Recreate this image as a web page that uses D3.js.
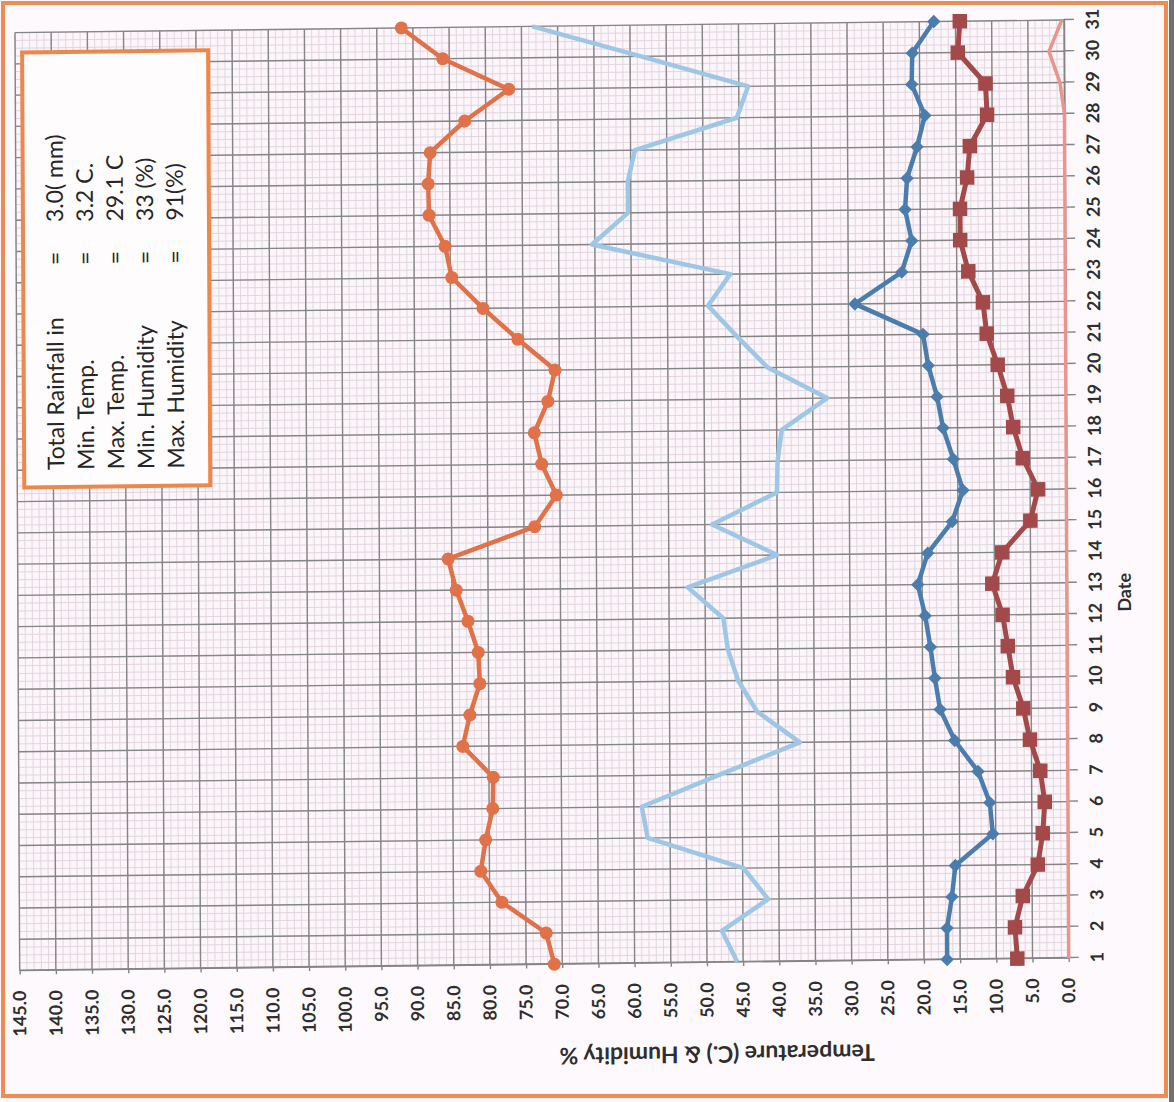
<!DOCTYPE html>
<html>
<head>
<meta charset="utf-8">
<script src="https://cdn.jsdelivr.net/npm/d3@7"></script>
<style>
  body { margin: 0; background: #fdf9fc; }
  text { font-family: Lato, "Open Sans", sans-serif; }
</style>
</head>
<body>
<svg id="chart"></svg>
<script>
// Data
const days = [1, 2, 3, 4, 5, 6, 7, 8, 9, 10, 11, 12, 13, 14, 15, 16, 17, 18, 19, 20, 21, 22, 23, 24, 25, 26, 27, 28, 29, 30, 31];
const rainfall = [0, 0, 0, 0, 0, 0, 0, 0, 0, 0, 0, 0, 0, 0, 0, 0, 0, 0, 0, 0, 0, 0, 0, 0, 0, 0, 0, 0, 0.6, 2.1, 0.3];
const minTemp = [7.1, 7.4, 6.3, 4.2, 3.5, 3.2, 3.8, 5.2, 6.1, 7.5, 8.2, 8.9, 10.3, 8.9, 5.0, 3.9, 6.0, 7.3, 8.1, 9.4, 10.9, 11.4, 13.4, 14.5, 14.5, 13.5, 13.1, 10.7, 10.9, 14.7, 14.4];
const maxTemp = [16.8, 16.8, 16.1, 15.6, 10.4, 10.8, 12.4, 15.6, 17.6, 18.3, 18.9, 19.6, 20.6, 19.2, 15.8, 14.3, 15.6, 17.0, 17.8, 19.0, 19.7, 29.1, 22.6, 21.2, 22.1, 21.8, 20.4, 19.3, 21.1, 21.0, 18.0];
const minHumidity = [45.8, 47.9, 41.5, 44.9, 58.1, 58.9, 48.1, 37.0, 42.9, 45.5, 46.9, 47.5, 52.4, 40.0, 49.0, 40.0, 39.9, 39.3, 33.0, 41.2, 45.4, 49.4, 46.3, 65.4, 60.4, 60.4, 59.4, 45.3, 43.7, 58.5, 73.5];
const maxHumidity = [71.1, 72.2, 78.3, 81.2, 80.5, 79.5, 79.4, 83.6, 82.6, 81.2, 81.4, 82.8, 84.4, 85.5, 73.5, 70.5, 72.5, 73.5, 71.6, 70.6, 75.7, 80.5, 84.8, 85.7, 87.9, 88.0, 87.7, 82.9, 76.8, 85.9, 91.6];
const valueTicks = [0, 5, 10, 15, 20, 25, 30, 35, 40, 45, 50, 55, 60, 65, 70, 75, 80, 85, 90, 95, 100, 105, 110, 115, 120, 125, 130, 135, 140, 145];
const summaryLabels = ["Total Rainfall in", "Min. Temp.", "Max. Temp.", "Min. Humidity", "Max. Humidity"];
const summaryValues = ["3.0( mm)", "3.2 C.", "29.1 C", "33 (%)", "91(%)"];

const W = 1174, H = 1102;
const innerW = 938, innerH = 1049;

const svg = d3.select("#chart").attr("width", W).attr("height", H);

svg.append("rect").attr("width", W).attr("height", H).attr("fill", "#fdf9fc");
// orange frame of the scanned sheet
svg.append("rect")
  .attr("x", 3).attr("y", 3).attr("width", 1163).attr("height", 1093)
  .attr("fill", "none").attr("stroke", "#f28b4f").attr("stroke-width", 4);
svg.append("rect").attr("x", 1169).attr("y", 0).attr("width", 5).attr("height", H).attr("fill", "#707070");

// slight skew of the scan, then the chart turned on its side
const page = svg.append("g")
  .attr("transform", "translate(1064,20) matrix(1,-0.012,0.005,1,0,0) translate(-1064,-20)");
const g = page.append("g").attr("transform", "translate(15,958) rotate(-90)");

const x = d3.scaleLinear().domain([1, 31]).range([0, innerW]);
const y = d3.scaleLinear().domain([0, 145]).range([innerH, 0]);

g.append("rect").attr("width", innerW).attr("height", innerH).attr("fill", "#fcf5fa");

// minor grid
g.append("g")
  .selectAll("line")
  .data(d3.range(1, 31.001, 0.25))
  .enter()
  .append("line")
  .attr("x1", (d) => x(d)).attr("x2", (d) => x(d))
  .attr("y1", 0).attr("y2", innerH)
  .attr("stroke", "#dfd3db").attr("stroke-width", 0.9);
g.append("g")
  .selectAll("line")
  .data(d3.range(0, 145.001, 1))
  .enter()
  .append("line")
  .attr("y1", (d) => y(d)).attr("y2", (d) => y(d))
  .attr("x1", 0).attr("x2", innerW)
  .attr("stroke", "#dfd3db").attr("stroke-width", 0.9);

// major grid
g.append("g")
  .selectAll("line")
  .data(days)
  .enter()
  .append("line")
  .attr("x1", (d) => x(d)).attr("x2", (d) => x(d))
  .attr("y1", 0).attr("y2", innerH)
  .attr("stroke", "#858585").attr("stroke-width", 1.4);
g.append("g")
  .selectAll("line")
  .data(valueTicks)
  .enter()
  .append("line")
  .attr("y1", (d) => y(d)).attr("y2", (d) => y(d))
  .attr("x1", 0).attr("x2", innerW)
  .attr("stroke", "#858585").attr("stroke-width", 1.4);

// axes
const xAxis = g.append("g")
  .attr("transform", `translate(0,${innerH})`)
  .call(d3.axisBottom(x).tickValues(days).tickFormat(d3.format("d")).tickSize(10).tickPadding(12).tickSizeOuter(0));
const yAxis = g.append("g")
  .call(d3.axisLeft(y).tickValues(valueTicks).tickFormat(d3.format(".1f")).tickSize(4).tickPadding(16).tickSizeOuter(0));

[xAxis, yAxis].forEach((ax) => {
  ax.select(".domain").attr("stroke", "#858585").attr("stroke-width", 1.4);
  ax.selectAll(".tick line").attr("stroke", "#858585").attr("stroke-width", 1.4);
  ax.selectAll("text").attr("fill", "#2e2e2e").style("font-weight", "bold");
});
xAxis.selectAll("text").style("font-size", "18px");
yAxis.selectAll("text").style("font-size", "18px");

g.append("text")
  .attr("x", 365).attr("y", innerH + 64)
  .attr("text-anchor", "middle")
  .style("font-size", "18px").style("font-weight", "bold").attr("fill", "#2e2e2e")
  .text("Date");

g.append("text")
  .attr("transform", "translate(-92,697) rotate(-90)")
  .attr("text-anchor", "middle").attr("dy", "0.35em")
  .style("font-size", "23px").style("font-weight", "bold").attr("fill", "#2e2e2e")
  .text("Temperature (C.) & Humidity %");

// series
const line = d3.line().x((d, i) => x(days[i])).y((d) => y(d));

g.append("path").datum(rainfall)
  .attr("d", line).attr("fill", "none")
  .attr("stroke", "#e9958c").attr("stroke-width", 3.5);

g.append("path").datum(minHumidity)
  .attr("d", line).attr("fill", "none")
  .attr("stroke", "#9ec6e6").attr("stroke-width", 4.5).attr("stroke-linejoin", "round");

g.append("path").datum(maxHumidity)
  .attr("d", line).attr("fill", "none")
  .attr("stroke", "#e07148").attr("stroke-width", 4.5).attr("stroke-linejoin", "round");
g.append("g")
  .selectAll("circle")
  .data(maxHumidity)
  .enter()
  .append("circle")
  .attr("cx", (d, i) => x(days[i])).attr("cy", (d) => y(d))
  .attr("r", 6.5).attr("fill", "#e07148");

g.append("path").datum(maxTemp)
  .attr("d", line).attr("fill", "none")
  .attr("stroke", "#4a7dad").attr("stroke-width", 4.5).attr("stroke-linejoin", "round");
g.append("g")
  .selectAll("path")
  .data(maxTemp)
  .enter()
  .append("path")
  .attr("d", d3.symbol(d3.symbolSquare, 90))
  .attr("transform", (d, i) => `translate(${x(days[i])},${y(d)}) rotate(45)`)
  .attr("fill", "#4a7dad");

g.append("path").datum(minTemp)
  .attr("d", line).attr("fill", "none")
  .attr("stroke", "#a3494a").attr("stroke-width", 5).attr("stroke-linejoin", "round");
g.append("g")
  .selectAll("path")
  .data(minTemp)
  .enter()
  .append("path")
  .attr("d", d3.symbol(d3.symbolSquare, 210))
  .attr("transform", (d, i) => `translate(${x(days[i])},${y(d)})`)
  .attr("fill", "#a3494a");

// summary box
const box = g.append("g").attr("transform", "translate(483,7)");
box.append("rect")
  .attr("width", 435).attr("height", 186)
  .attr("fill", "#fefcfd").attr("stroke", "#f0874a").attr("stroke-width", 4);
summaryLabels.forEach((label, i) => {
  const row = box.append("g").attr("transform", `translate(0,${40 + i * 30})`)
    .style("font-size", "23px").attr("fill", "#262626");
  row.append("text").attr("x", 17).text(label);
  row.append("text").attr("x", 222).text("=");
  row.append("text").attr("x", 265).text(summaryValues[i]);
});
</script>
</body>
</html>
